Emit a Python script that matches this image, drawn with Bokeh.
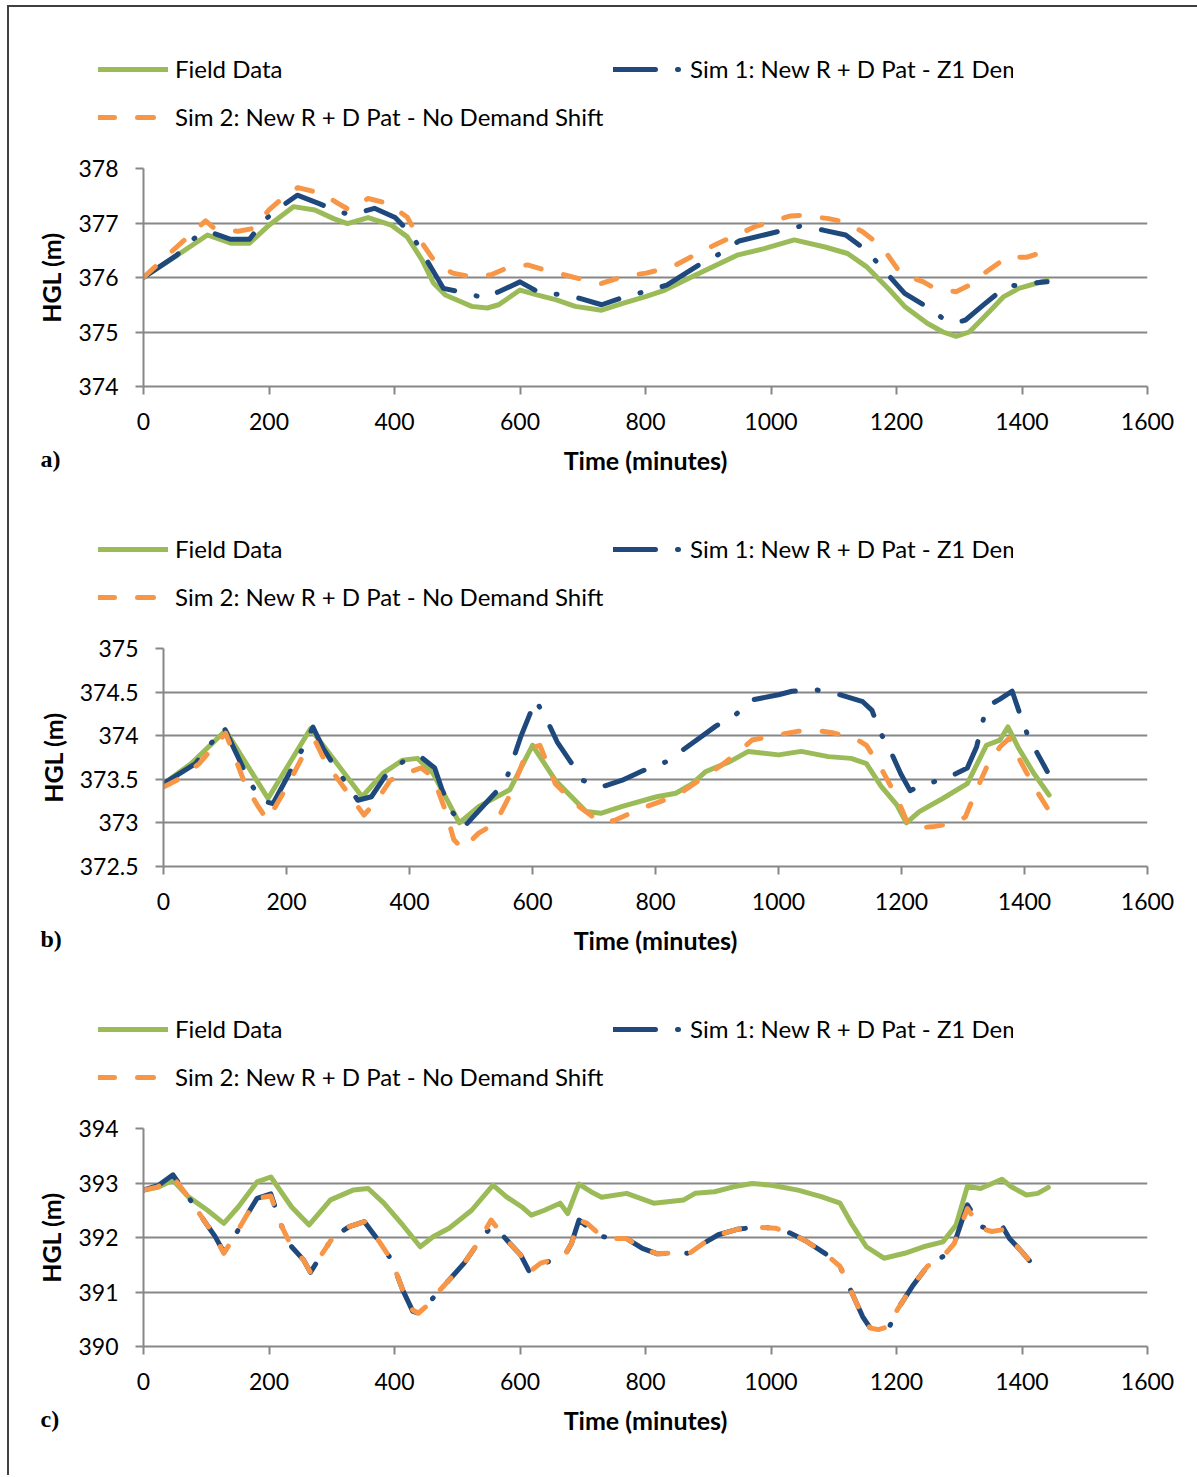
from bokeh.plotting import figure
from bokeh.models import FixedTicker, NumeralTickFormatter, Legend, LegendItem, Label
from bokeh.layouts import column, row
from bokeh.embed import file_html
from bokeh.resources import INLINE

# ---------------- data ----------------
X_TICKS = [0, 200, 400, 600, 800, 1000, 1200, 1400, 1600]
LABELS = ["Field Data", "Sim 1: New R + D Pat - Z1 Demand Shift", "Sim 2: New R + D Pat - No Demand Shift"]
X_TITLE = "Time (minutes)"
Y_TITLE = "HGL (m)"

# panel a
FD_A_T = [0, 50, 102, 139, 169, 200, 239, 273, 303, 325, 358, 395, 420, 444, 462, 481, 505, 523, 548, 566, 600, 627, 658, 688, 730, 765, 800, 831, 879, 946, 989, 1037, 1086, 1122, 1152, 1189, 1213, 1249, 1274, 1295, 1316, 1340, 1371, 1395, 1440]
FD_A_V = [376.0, 376.38, 376.78, 376.63, 376.63, 376.96, 377.3, 377.24, 377.08, 376.99, 377.1, 376.96, 376.75, 376.32, 375.9, 375.68, 375.56, 375.47, 375.44, 375.5, 375.77, 375.68, 375.59, 375.47, 375.4, 375.53, 375.65, 375.77, 376.04, 376.41, 376.53, 376.69, 376.56, 376.44, 376.2, 375.77, 375.47, 375.16, 375.0, 374.92, 375.0, 375.28, 375.65, 375.8, 375.95]
S1_A_T = [0, 53, 81, 105, 139, 169, 191, 218, 245, 279, 310, 331, 368, 401, 426, 459, 478, 511, 545, 566, 600, 633, 664, 694, 730, 761, 798, 834, 885, 919, 949, 989, 1046, 1083, 1119, 1152, 1192, 1213, 1243, 1274, 1295, 1310, 1340, 1374, 1410, 1440]
S1_A_V = [376.0, 376.41, 376.72, 376.84, 376.7, 376.7, 377.04, 377.29, 377.51, 377.36, 377.21, 377.15, 377.27, 377.1, 376.81, 376.17, 375.8, 375.72, 375.62, 375.74, 375.92, 375.71, 375.69, 375.62, 375.5, 375.62, 375.74, 375.86, 376.23, 376.44, 376.67, 376.78, 376.94, 376.87, 376.78, 376.5, 375.98, 375.71, 375.5, 375.25, 375.17, 375.22, 375.51, 375.83, 375.89, 375.92]
S2_A_T = [0, 47, 99, 114, 151, 175, 200, 224, 246, 285, 310, 328, 358, 389, 420, 444, 468, 493, 520, 554, 584, 612, 639, 670, 694, 730, 764, 801, 843, 873, 916, 976, 1031, 1049, 1092, 1116, 1146, 1177, 1207, 1243, 1261, 1295, 1322, 1340, 1377, 1407, 1440]
S2_A_V = [376.0, 376.5, 377.04, 376.89, 376.85, 376.9, 377.24, 377.48, 377.65, 377.54, 377.36, 377.24, 377.45, 377.36, 377.11, 376.63, 376.23, 376.08, 376.02, 376.05, 376.2, 376.23, 376.14, 376.05, 375.98, 375.89, 376.02, 376.08, 376.2, 376.38, 376.63, 376.94, 377.13, 377.14, 377.08, 377.02, 376.84, 376.56, 376.07, 375.92, 375.8, 375.74, 375.89, 376.08, 376.38, 376.37, 376.49]

# panel b
FD_B_T = [0, 45, 101, 170, 239, 323, 357, 389, 413, 438, 481, 513, 563, 600, 637, 687, 711, 746, 802, 833, 858, 882, 920, 951, 1000, 1037, 1081, 1118, 1143, 1167, 1192, 1208, 1229, 1267, 1307, 1338, 1360, 1373, 1391, 1415, 1440]
FD_B_V = [373.45, 373.68, 374.06, 373.28, 374.08, 373.3, 373.57, 373.72, 373.74, 373.57, 373.0, 373.19, 373.38, 373.89, 373.49, 373.13, 373.11, 373.19, 373.3, 373.34, 373.44, 373.59, 373.7, 373.82, 373.78, 373.82, 373.76, 373.74, 373.68, 373.42, 373.21, 373.0, 373.13, 373.28, 373.45, 373.89, 373.95, 374.1, 373.85, 373.57, 373.32]
S1_B_T = [0, 52, 98, 139, 158, 178, 226, 243, 260, 282, 316, 338, 360, 389, 416, 441, 453, 469, 488, 531, 556, 569, 581, 605, 624, 640, 662, 681, 711, 746, 780, 817, 867, 898, 930, 957, 1000, 1022, 1058, 1095, 1137, 1152, 1166, 1183, 1199, 1214, 1236, 1273, 1307, 1322, 1338, 1360, 1380, 1392, 1406, 1437]
S1_B_V = [373.45, 373.68, 374.1, 373.49, 373.26, 373.22, 373.85, 374.1, 373.85, 373.61, 373.26, 373.3, 373.53, 373.7, 373.77, 373.63, 373.38, 373.13, 372.95, 373.28, 373.47, 373.74, 373.99, 374.41, 374.17, 373.93, 373.7, 373.49, 373.41, 373.49, 373.6, 373.7, 373.95, 374.11, 374.24, 374.41, 374.47, 374.51, 374.53, 374.48, 374.39, 374.29, 374.03, 373.81, 373.56, 373.37, 373.44, 373.51, 373.63, 373.87, 374.33, 374.42, 374.51, 374.26, 373.99, 373.59]
S2_B_T = [0, 27, 58, 101, 133, 152, 169, 201, 232, 248, 263, 294, 326, 344, 369, 394, 419, 438, 459, 472, 486, 512, 540, 562, 593, 612, 637, 668, 711, 734, 771, 802, 836, 861, 907, 941, 957, 1000, 1031, 1062, 1090, 1124, 1143, 1168, 1192, 1211, 1223, 1254, 1288, 1304, 1322, 1341, 1360, 1375, 1391, 1415, 1439]
S2_B_V = [373.41, 373.51, 373.68, 374.03, 373.44, 373.21, 373.03, 373.42, 373.84, 373.92, 373.7, 373.4, 373.09, 373.23, 373.49, 373.57, 373.63, 373.53, 373.13, 372.81, 372.7, 372.88, 373.0, 373.3, 373.85, 373.89, 373.45, 373.23, 373.0, 373.03, 373.15, 373.23, 373.32, 373.44, 373.66, 373.85, 373.95, 374.01, 374.05, 374.06, 374.03, 373.97, 373.89, 373.61, 373.3, 372.98, 372.94, 372.96, 373.0, 373.07, 373.38, 373.68, 373.87, 373.97, 373.74, 373.42, 373.15]

# panel c
FD_C_T = [0, 23, 47, 71, 102, 128, 151, 181, 203, 236, 264, 298, 334, 358, 383, 413, 441, 462, 487, 523, 557, 578, 603, 618, 639, 664, 676, 694, 713, 730, 770, 813, 861, 879, 910, 940, 970, 1001, 1043, 1080, 1110, 1128, 1152, 1180, 1213, 1243, 1274, 1295, 1313, 1334, 1368, 1383, 1407, 1425, 1442]
FD_C_V = [392.87, 392.92, 393.05, 392.75, 392.5, 392.26, 392.56, 393.02, 393.11, 392.56, 392.23, 392.69, 392.87, 392.9, 392.63, 392.23, 391.83, 392.02, 392.17, 392.5, 392.96, 392.75, 392.56, 392.41, 392.5, 392.63, 392.44, 392.98, 392.84, 392.74, 392.81, 392.63, 392.69, 392.81, 392.84, 392.93, 392.99, 392.96, 392.87, 392.75, 392.63, 392.26, 391.83, 391.62, 391.71, 391.83, 391.92, 392.23, 392.94, 392.9, 393.07, 392.93, 392.78, 392.81, 392.92]
S1_C_T = [0, 23, 47, 71, 96, 114, 128, 145, 163, 181, 203, 218, 236, 255, 266, 285, 303, 328, 352, 376, 395, 413, 429, 438, 450, 468, 487, 511, 529, 554, 566, 584, 601, 615, 633, 652, 670, 682, 694, 707, 730, 752, 770, 795, 819, 849, 870, 892, 916, 946, 976, 1007, 1031, 1055, 1086, 1110, 1122, 1146, 1158, 1171, 1189, 1201, 1225, 1249, 1274, 1292, 1313, 1334, 1352, 1368, 1380, 1395, 1413, 1431]
S1_C_V = [392.87, 392.95, 393.15, 392.75, 392.32, 392.02, 391.73, 392.02, 392.38, 392.72, 392.8, 392.26, 391.83, 391.59, 391.36, 391.71, 392.02, 392.2, 392.29, 391.92, 391.59, 391.04, 390.65, 390.61, 390.73, 390.98, 391.22, 391.53, 391.83, 392.2, 392.12, 391.89, 391.68, 391.37, 391.5, 391.59, 391.65, 391.89, 392.32, 392.2, 392.02, 391.98, 391.98, 391.8, 391.7, 391.72, 391.71, 391.89, 392.05, 392.15, 392.19, 392.17, 392.08, 391.94, 391.71, 391.47, 391.16, 390.55, 390.34, 390.31, 390.37, 390.67, 391.1, 391.47, 391.65, 391.89, 392.6, 392.2, 392.15, 392.22, 391.98, 391.8, 391.56, 391.71]
S2_C_T = [0, 23, 47, 71, 96, 114, 128, 145, 163, 181, 203, 218, 236, 255, 266, 285, 303, 328, 352, 376, 395, 413, 429, 438, 450, 468, 487, 511, 529, 554, 566, 584, 601, 615, 633, 652, 670, 682, 694, 707, 730, 752, 770, 795, 819, 849, 870, 892, 916, 946, 976, 1007, 1031, 1055, 1086, 1110, 1122, 1146, 1158, 1171, 1189, 1201, 1225, 1249, 1274, 1292, 1313, 1334, 1352, 1368, 1380, 1395, 1413, 1431]
S2_C_V = [392.87, 392.93, 393.11, 392.75, 392.32, 392.02, 391.71, 392.02, 392.38, 392.72, 392.76, 392.26, 391.83, 391.59, 391.36, 391.71, 392.02, 392.2, 392.29, 391.92, 391.59, 391.04, 390.67, 390.61, 390.73, 390.98, 391.22, 391.53, 391.83, 392.32, 392.14, 391.89, 391.68, 391.37, 391.53, 391.59, 391.65, 391.89, 392.32, 392.26, 392.02, 391.98, 391.98, 391.8, 391.7, 391.72, 391.71, 391.89, 392.05, 392.15, 392.19, 392.17, 392.08, 391.94, 391.71, 391.47, 391.16, 390.55, 390.34, 390.31, 390.37, 390.67, 391.1, 391.47, 391.65, 391.89, 392.53, 392.17, 392.11, 392.14, 391.98, 391.8, 391.56, 391.71]

PANELS = [
    dict(tag="a)", ylim=(374, 378), yticks=[374, 375, 376, 377, 378], shift=0,
         fd=(FD_A_T, FD_A_V), s1=(S1_A_T, S1_A_V), s2=(S2_A_T, S2_A_V)),
    dict(tag="b)", ylim=(372.5, 375), yticks=[372.5, 373, 373.5, 374, 374.5, 375], shift=20,
         fd=(FD_B_T, FD_B_V), s1=(S1_B_T, S1_B_V), s2=(S2_B_T, S2_B_V)),
    dict(tag="c)", ylim=(390, 394), yticks=[390, 391, 392, 393, 394], shift=0,
         fd=(FD_C_T, FD_C_V), s1=(S1_C_T, S1_C_V), s2=(S2_C_T, S2_C_V)),
]

GREEN = "#9BBB59"
NAVY = "#1F497D"
ORANGE = "#F79646"
GRID = "#878787"
FONT = "Lato"

W = 1188          # inner width of the bordered box (x = 9 .. 1197)
LEFT = 134        # left border of the plots (frame at x = 143)
RIGHT = 50        # frame right edge at x = 1147
M_TOP, FRAME_H, M_BOT = 20, 218, 54
ITEM_H = 28

STYLE = dict(
    fd=dict(line_color=GREEN, line_width=5, line_cap="round", line_join="round"),
    s1=dict(line_color=NAVY, line_width=5, line_dash="42 22 1 22", line_cap="round", line_join="round"),
    s2=dict(line_color=ORANGE, line_width=5, line_dash="16 23", line_cap="round", line_join="round"),
)


def no_align(fig):
    # keep every band's frame where its own borders put it
    try:
        fig.frame_align = False
    except Exception:
        pass


def strip(height, P, texts):
    """Text/legend band: its frame spans x = 9 .. 1147 of the page."""
    s = figure(width=W + LEFT, height=height, x_range=(0, 1), y_range=(0, 1),
               output_backend="svg", toolbar_location=None,
               x_axis_location=None, y_axis_location=None,
               min_border_left=LEFT, min_border_right=RIGHT,
               min_border_top=0, min_border_bottom=0)
    no_align(s)
    s.outline_line_color = None
    s.grid.grid_line_color = None
    s.background_fill_color = "white"
    s.border_fill_alpha = 0
    if P is not None:
        # the series themselves (outside this band's ranges) feed the legend glyphs
        r = {k: s.line(P[k][0], P[k][1], **STYLE[k]) for k in ("fd", "s1", "s2")}
        common = dict(orientation="horizontal", padding=0, margin=0, spacing=10,
                      border_line_alpha=0, background_fill_alpha=0,
                      glyph_width=70, glyph_height=ITEM_H, label_height=ITEM_H,
                      label_standoff=7, label_text_font=FONT, label_text_font_size="24px",
                      label_text_color="black")
        s.add_layout(Legend(items=[LegendItem(label=LABELS[0], renderers=[r["fd"]]),
                                   LegendItem(label=LABELS[1], renderers=[r["s1"]])],
                            location=(89, 65), label_width=428, **common))
        s.add_layout(Legend(items=[LegendItem(label=LABELS[2], renderers=[r["s2"]])],
                            location=(89, 17), **common))
    for (tx, ty, txt, kind) in texts:
        if kind == "tag":
            s.add_layout(Label(x=tx, y=ty, x_units="screen", y_units="screen", text=txt,
                               text_font="Liberation Serif", text_font_style="bold",
                               text_font_size="24px", text_baseline="middle",
                               text_align="left", text_color="black"))
        else:
            s.add_layout(Label(x=tx, y=ty, x_units="screen", y_units="screen", text=txt,
                               text_font=FONT, text_font_style="bold",
                               text_font_size="25px", text_baseline="middle",
                               text_align="center", text_color="black"))
    return row(s, width=W + LEFT)


def main(P):
    sh = P["shift"]
    p = figure(width=W - sh, height=M_TOP + FRAME_H + M_BOT, x_range=(0, 1600), y_range=P["ylim"],
               output_backend="svg", toolbar_location=None, margin=(0, 0, 0, LEFT + sh),
               min_border_left=LEFT, min_border_right=RIGHT,
               min_border_top=M_TOP, min_border_bottom=M_BOT)
    no_align(p)
    p.outline_line_color = None
    p.background_fill_color = "white"
    p.border_fill_color = "white"
    p.line(P["fd"][0], P["fd"][1], **STYLE["fd"])
    p.line(P["s1"][0], P["s1"][1], **STYLE["s1"])
    p.line(P["s2"][0], P["s2"][1], **STYLE["s2"])

    p.xaxis.ticker = FixedTicker(ticks=X_TICKS)
    p.yaxis.ticker = FixedTicker(ticks=P["yticks"])
    p.yaxis.formatter = NumeralTickFormatter(format="0.[0]")
    for ax in (p.xaxis[0], p.yaxis[0]):
        ax.axis_line_color = GRID
        ax.axis_line_width = 2
        ax.major_tick_line_color = GRID
        ax.major_tick_line_width = 2
        ax.major_tick_out = 8
        ax.major_tick_in = 0
        ax.minor_tick_line_color = None
        ax.major_label_text_font = FONT
        ax.major_label_text_font_size = "23px"
        ax.major_label_text_color = "black"
        ax.axis_label_text_font = FONT
        ax.axis_label_text_font_style = "bold"
        ax.axis_label_text_font_size = "25px"
        ax.axis_label_text_color = "black"
    p.yaxis.axis_label = Y_TITLE
    p.xaxis.major_label_standoff = 18
    p.yaxis.major_label_standoff = 17
    p.yaxis.axis_label_standoff = 9
    p.xgrid.grid_line_color = None
    p.ygrid.grid_line_color = GRID
    p.ygrid.grid_line_width = 2
    return p


# frame centres in band coordinates (band frame starts at x = 9)
XC_AC = (143 + 1147) / 2 - 9
XC_B = (163 + 1147) / 2 - 9

children = [
    strip(141, PANELS[0], []),
    main(PANELS[0]),
    strip(188, PANELS[1], [(31, 170, PANELS[0]["tag"], "tag"), (XC_AC, 169, X_TITLE, "title")]),
    main(PANELS[1]),
    strip(188, PANELS[2], [(31, 170, PANELS[1]["tag"], "tag"), (XC_B, 169, X_TITLE, "title")]),
    main(PANELS[2]),
    strip(75, None, [(31, 57, PANELS[2]["tag"], "tag"), (XC_AC, 56, X_TITLE, "title")]),
]

inner = column(*children, width=W + LEFT, margin=(0, 0, 0, -LEFT))
layout = column(inner, margin=(5, 0, 0, 7),
                styles={"border-left": "2px solid #404040", "border-top": "2px solid #404040",
                        "overflow": "hidden"})

open("out.html", "w").write(file_html(layout, INLINE))
